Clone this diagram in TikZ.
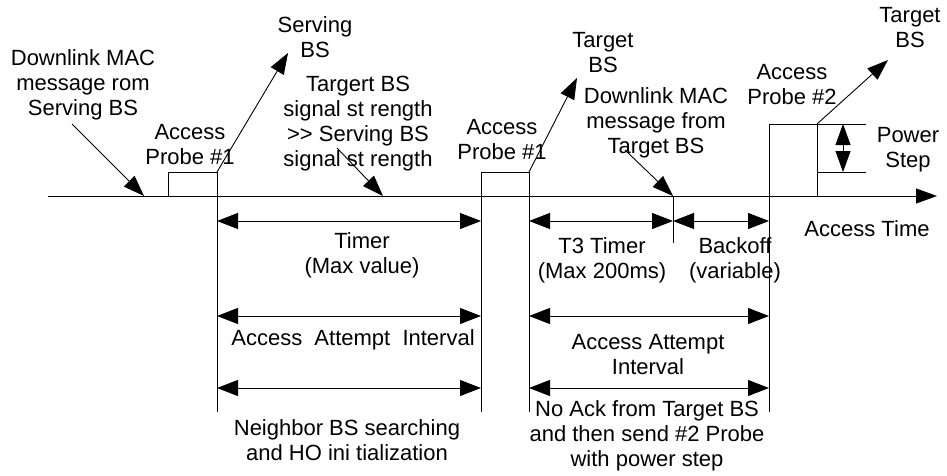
\documentclass[tikz,border=0pt]{standalone}
\usepackage{fontspec}
\setmainfont{Liberation Sans}
\usetikzlibrary{arrows.meta, positioning, calc}
\tikzset{
  note/.style={align=center,inner sep=0pt,font=\fontsize{22}{25}\selectfont},
  thinline/.style={line width=0.9pt,black},
  pointer/.style={thinline,-{Triangle[length=21pt,width=15pt]}},
  span/.style={thinline,{Triangle[length=21pt,width=16pt]}-{Triangle[length=21pt,width=16pt]}},
  stepspan/.style={thinline,{Triangle[length=21pt,width=15pt]}-{Triangle[length=21pt,width=15pt]}},
}

\begin{document}
\begin{tikzpicture}[x=1pt,y=-1pt]
	    \useasboundingbox (0,0) rectangle (947,476);
	    % time points on the axis
	    \coordinate (axisL) at (48,196);
	    \coordinate (axisR) at (937,196);
	    \coordinate (p1s) at (168,196);
	    \coordinate (t1) at (217,196);
	    \coordinate (t2) at (481,196);
	    \coordinate (t3) at (529,196);
	    \coordinate (t4) at (673,196);
	    \coordinate (t5) at (769,196);
	    \coordinate (t6) at (817,196);
	    % heights
	    \coordinate (top1) at (0,172);
	    \coordinate (top3) at (0,124);
	    \coordinate (tick) at (0,243);
	    \coordinate (bot) at (0,412);
	    \coordinate (rowA) at (0,221);
	    \coordinate (rowB) at (0,316);
	    \coordinate (rowC) at (0,388);
	    \coordinate (psx) at (866,0);
	    \coordinate (psa) at (843,124);
	    \coordinate (psb) at (843,172);
	    % free ends of the pointers
	    \coordinate (dl1) at (72,124);
	    \coordinate (dl1e) at (144,196);
	    \coordinate (srv) at (288,53);
	    \coordinate (sig) at (337,148);
	    \coordinate (sige) at (383,196);
	    \coordinate (tg1) at (577,78);
	    \coordinate (dl2) at (625,150);
	    \coordinate (tg2) at (888,60);

	    \draw[pointer] (axisL) -- (axisR);
	    \draw[thinline] (p1s) -- (p1s |- top1) -- (t1 |- top1) -- (t1 |- bot);
	    \draw[thinline] (t2 |- bot) -- (t2 |- top1) -- (t3 |- top1) -- (t3 |- bot);
	    \draw[thinline] (t5 |- bot) -- (t5 |- top3) -- (t6 |- top3) -- (t6);
	    \draw[thinline] (t4) -- (t4 |- tick);
	    \draw[thinline] (t6 |- top3) -- (psx |- top3);
	    \draw[thinline] (t6 |- top1) -- (psx |- top1);
	    \draw[stepspan] (psa) -- (psb);

	    \draw[span] (t1 |- rowA) -- (t2 |- rowA);
	    \draw[span] (t3 |- rowA) -- (t4 |- rowA);
	    \draw[span] (t4 |- rowA) -- (t5 |- rowA);
	    \draw[span] (t1 |- rowB) -- (t2 |- rowB);
	    \draw[span] (t3 |- rowB) -- (t5 |- rowB);
	    \draw[span] (t1 |- rowC) -- (t2 |- rowC);
	    \draw[span] (t3 |- rowC) -- (t5 |- rowC);

	    \draw[pointer] (dl1) -- (dl1e);
	    \draw[pointer] (t1 |- top1) -- (srv);
	    \draw[pointer] (sig) -- (sige);
	    \draw[pointer] (t3 |- top1) -- (tg1);
	    \draw[pointer] (dl2) -- (t4);
	    \draw[pointer] (t6 |- top3) -- (tg2);

	    \node[note] (dlServing) at (83,85) {Downlink MAC\\message rom\\Serving BS};
	    \node[note] (servingBS) at (315,37) {Serving\\BS};
	    \node[note] (probeA) at (190,145) {Access\\Probe \#1};
	    \node[note] (strength) at (358,124) {Targert BS\\signal st rength\\>{}> Serving BS\\signal st rength};
	    \node[note] (probeB) at (502,140) {Access\\Probe \#1};
	    \node[note] (targetA) at (603,53) {Target\\BS};
	    \node[note] (dlTarget) at (656,123) {Downlink MAC\\message from\\Target BS};
	    \node[note] (probeC) at (792,85) {Access\\Probe \#2};
	    \node[note] (targetB) at (910,28) {Target\\BS};
	    \node[note] (powerStep) at (908,150) {Power\\Step};
	    \node[note] (accessTime) at (867,229) {Access Time};
	    \node[note] (timer) at (362,255) {Timer\\(Max value)};
	    \node[note] (attemptA) at (353,340) {Access\ \ Attempt\ \ Interval};
	    \node[note] (neighbor) at (347,440) {Neighbor BS searching\\and HO ini tialization};
	    \node[note] (tthree) at (602,260) {T3 Timer\\(Max 200ms)};
	    \node[note] (backoff) at (735,260) {Backoff\\(variable)};
	    \node[note] (attemptB) at (648,355) {Access Attempt\\Interval};
	    \node[note] (noAck) at (647,436) {No Ack from Target BS\\and then send \#2 Probe\\with power step};
	\end{tikzpicture}
\end{document}
